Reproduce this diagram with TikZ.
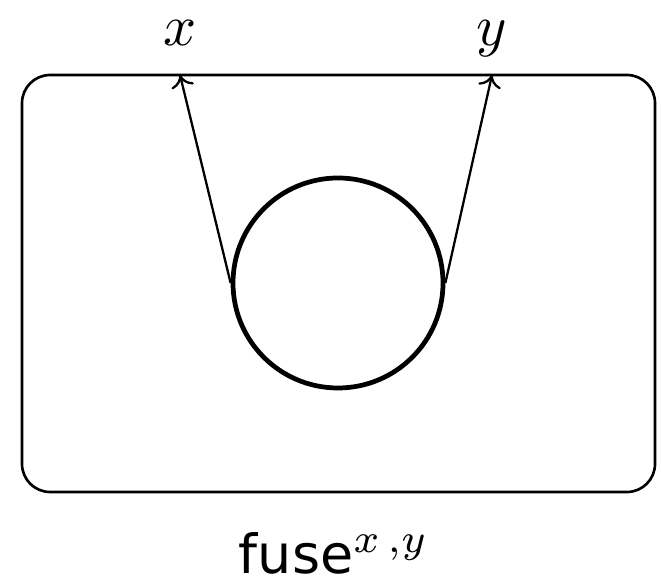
\documentclass[tikz,border=0pt]{standalone}
\usepackage{amsmath}
\usepackage{fontspec}
\newfontfamily\labelfont{DejaVu Sans}
\usetikzlibrary{positioning}
\usetikzlibrary{calc}
\usetikzlibrary{arrows.meta}

\begin{document}
\begin{tikzpicture}[x=0.02cm, y=0.02cm, line width=1.5pt,
  >={To[length=7pt, width=13pt]},
  big/.style={scale=3.3, anchor=base, inner sep=0pt}]

        \useasboundingbox (0,0) rectangle (661,587);

        % outer box
        \node[draw, rounded corners=16pt, minimum width=633*0.02cm, minimum height=417*0.02cm, inner sep=0pt] (box) at (338.5, 303.5) {};

        % the blob inside
        \node[draw, circle, line width=2.7pt, minimum size=210*0.02cm, inner sep=0pt] (blob) at (338, 304) {};

        \coordinate (ox) at (180, 512);
        \coordinate (oy) at (492, 512);

        \node[big] (lx) at (180, 541) {$x$};
        \node[big] (ly) at (492, 541) {$y$};

        \draw[->, line width=1.3pt] (blob.west) -- (ox);
        \draw[->, line width=1.3pt] (blob.east) -- (oy);

        \node[big] (name) at (334, 13) {{\labelfont\fontsize{9.3}{11}\selectfont fuse}$^{x\,,y}$};

      \end{tikzpicture}
\end{document}
